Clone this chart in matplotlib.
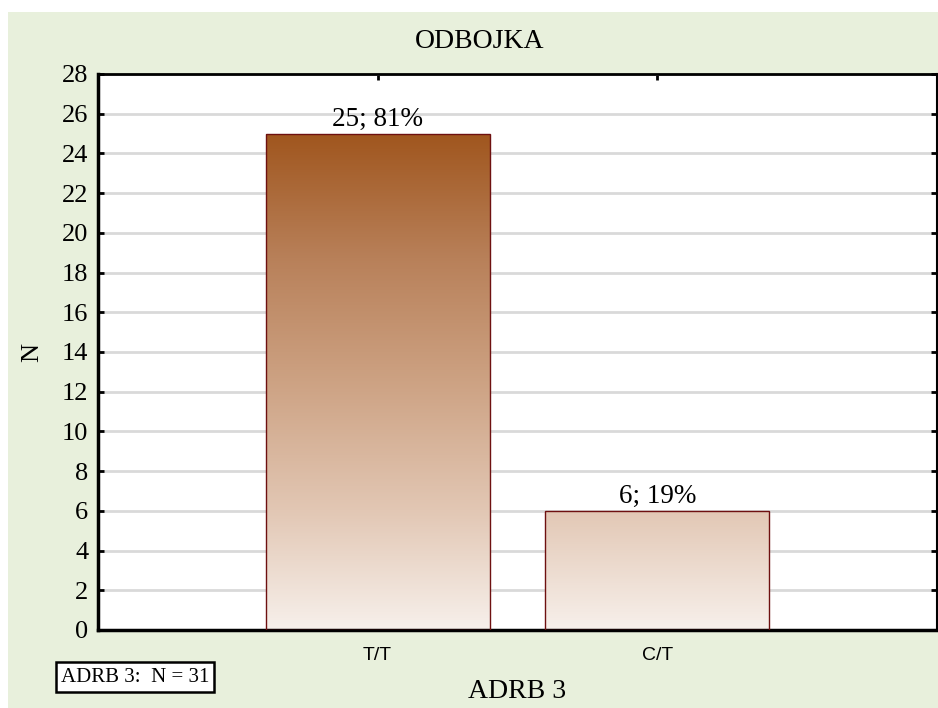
import numpy as np
import matplotlib.pyplot as plt
from matplotlib.colors import LinearSegmentedColormap
from matplotlib.patches import Rectangle

# data
categories = ['T/T', 'C/T']
counts = [25, 6]
percents = [81, 19]
n_total = 31

serif = 'Liberation Serif'
sans = 'Liberation Sans'

fig = plt.figure(figsize=(9.38, 7.08), dpi=100)
fig.patch.set_facecolor('white')
# green panel (white strip at top and left)
fig.patches.append(Rectangle((8 / 938, 0), 1, 1 - 12 / 708, transform=fig.transFigure,
                             facecolor='#e8f0dc', edgecolor='none', zorder=-10))

ax = fig.add_axes([98 / 938, 1 - 630 / 708, (937 - 98) / 938, (630 - 74) / 708])
ax.set_facecolor('white')

# gradient in data y, same for both bars
cmap = LinearSegmentedColormap.from_list('brown', [
    (0.0, '#f7f0eb'), (0.24, '#e2c7b4'), (0.5, '#cda283'), (0.75, '#b88059'), (1.0, '#a0561e')])
grad = np.linspace(0, 1, 256).reshape(-1, 1)
ymax = max(counts)

xpos = np.arange(1, len(categories) + 1)
width = 0.8
for x, c, p in zip(xpos, counts, percents):
    rect = Rectangle((x - width / 2, 0), width, c, facecolor='none',
                     edgecolor='#6e1010', linewidth=1.0, zorder=3)
    ax.add_patch(rect)
    im = ax.imshow(grad, cmap=cmap, origin='lower', aspect='auto',
                   extent=[x - width / 2, x + width / 2, 0, ymax], zorder=2)
    im.set_clip_path(rect)
    ax.text(x, c + 0.08, f'{c}; {p}%', ha='center', va='bottom',
            family=serif, fontsize=19.5, zorder=4)

ax.set_xlim(0, 3)
ax.set_ylim(0, 28)
ax.set_yticks(np.arange(0, 29, 2))
ax.set_xticks(xpos)
ax.set_xticklabels(categories, family=sans, fontsize=14)
for lab in ax.get_yticklabels():
    lab.set_family(serif)
    lab.set_fontsize(19)
ax.grid(axis='y', color='#d9d9d9', linewidth=2, zorder=1)
ax.set_axisbelow(True)

ax.tick_params(axis='y', direction='in', length=4, width=2, left=True, right=True, pad=7)
ax.tick_params(axis='x', direction='in', length=4, width=2, bottom=True, top=True, pad=12)
for side, lw in [('left', 2.5), ('bottom', 2.5), ('top', 2.0), ('right', 1.5)]:
    ax.spines[side].set_linewidth(lw)
    ax.spines[side].set_color('black')

fig.text(480 / 938, 1 - 42 / 708, 'ODBOJKA', ha='center', va='center', family=serif, fontsize=20)
fig.text(517 / 938, 1 - 692 / 708, 'ADRB 3', ha='center', va='center', family=serif, fontsize=20)
fig.text(32 / 938, 1 - 352 / 708, 'N', ha='center', va='center', rotation=90, family=serif, fontsize=19)
fig.text(135 / 938, 1 - 677 / 708, f'ADRB 3:  N = {n_total}', ha='center', va='center',
         family=serif, fontsize=15,
         bbox=dict(boxstyle='square,pad=0.25', facecolor='white', edgecolor='black', linewidth=1.8))

fig.savefig('out.png', dpi=100, facecolor=fig.get_facecolor())
